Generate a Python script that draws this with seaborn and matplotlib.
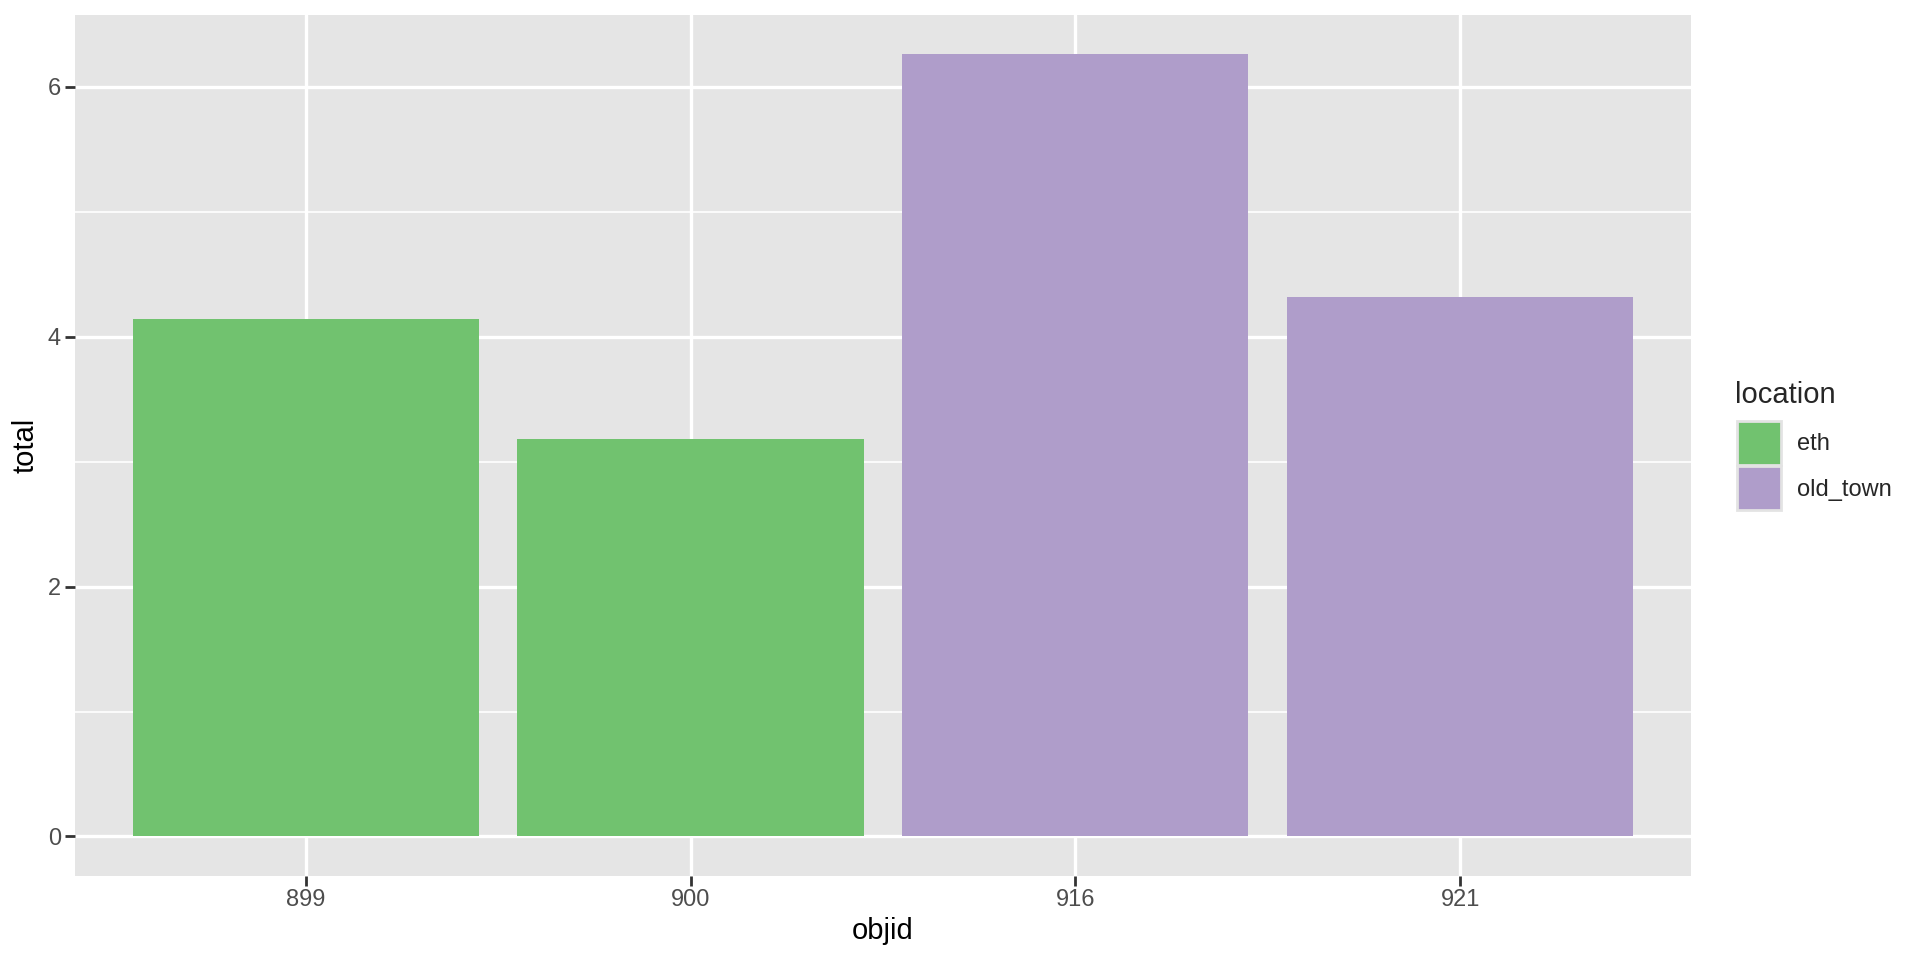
import pandas as pd
import numpy as np
import matplotlib.pyplot as plt
import seaborn as sns
from matplotlib.ticker import MultipleLocator
from matplotlib.patches import Patch

# data
objid = ["899", "900", "916", "921"]
total = [4.14, 3.18, 6.26, 4.32]
location = ["eth", "eth", "old_town", "old_town"]

loc_levels = ["eth", "old_town"]
loc_colors = ["#71C26F", "#AF9DCA"]

df = pd.DataFrame({"objid": objid, "total": total, "location": location})

sns.set_theme(style="white")
plt.rcParams["font.family"] = ["Liberation Sans", "DejaVu Sans"]

fig = plt.figure(figsize=(19.2, 9.6), dpi=100)
ax = fig.add_axes([0.039, 0.088, 0.8417, 0.896])

sns.barplot(data=df, x="objid", y="total", hue="location", hue_order=loc_levels,
            palette=dict(zip(loc_levels, loc_colors)), dodge=False, width=0.9,
            saturation=1, legend=False, linewidth=0, ax=ax)

# ggplot-ish panel
ax.set_facecolor("#E5E5E5")
for s in ax.spines.values():
    s.set_visible(False)
ax.set_axisbelow(True)
ax.yaxis.set_major_locator(MultipleLocator(2))
ax.yaxis.set_minor_locator(MultipleLocator(1))
ax.grid(which="major", color="white", linewidth=2.4)
ax.grid(which="minor", axis="y", color="white", linewidth=1.2)
ax.tick_params(which="major", bottom=True, left=True, length=7, width=2,
               color="#333333", labelsize=17, labelcolor="#4D4D4D", pad=3)
ax.tick_params(which="minor", length=0)
ax.set_xlim(-0.6, 3.6)
ymax = max(total)
ax.set_ylim(-0.05 * ymax, 1.05 * ymax)
ax.set_xlabel("objid", fontsize=21, color="black", labelpad=4)
ax.set_ylabel("total", fontsize=21, color="black", labelpad=6)

# legend: title as its own text so the gap matches ggplot
fig.text(0.9036, 0.5802, "location", fontsize=21, va="baseline", ha="left")
handles = [Patch(facecolor=c, edgecolor="#E3E3E3", linewidth=2) for c in loc_colors]
leg = fig.legend(handles, loc_levels, loc="upper left",
                 bbox_to_anchor=(0.9046, 0.5615), frameon=False, fontsize=17,
                 handlelength=1.85, handleheight=2.5,
                 handletextpad=0.68, labelspacing=0.05, borderpad=0,
                 borderaxespad=0)

fig.savefig("out.png", dpi=100)
